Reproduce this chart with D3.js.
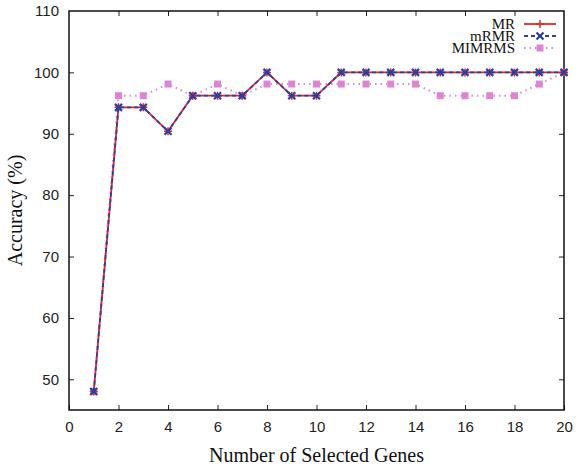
<!DOCTYPE html>
<html>
<head>
<meta charset="utf-8">
<script src="https://cdn.jsdelivr.net/npm/d3@7"></script>
<style>
  body { margin: 0; background: #fff; }
  .tick text { font-family: "Liberation Sans", Arial, sans-serif; font-size: 15px; fill: #222; }
</style>
</head>
<body>
<div id="chart"></div>
<script>
// data
var genes = d3.range(1, 21);
var mr     = [48, 94.3, 94.3, 90.4, 96.2, 96.2, 96.2, 100, 96.2, 96.2, 100, 100, 100, 100, 100, 100, 100, 100, 100, 100];
var mrmr   = [48, 94.3, 94.3, 90.4, 96.2, 96.2, 96.2, 100, 96.2, 96.2, 100, 100, 100, 100, 100, 100, 100, 100, 100, 100];
var mimrms = [48, 96.2, 96.2, 98.1, 96.2, 98.1, 96.2, 98.1, 98.1, 98.1, 98.1, 98.1, 98.1, 98.1, 96.2, 96.2, 96.2, 96.2, 98.1, 100];
var xTicks = d3.range(0, 21, 2);
var yTicks = [50, 60, 70, 80, 90, 100, 110];

var W = 579, H = 468;
var margin = { top: 11, right: 15, bottom: 58, left: 69 },
    width = W - margin.left - margin.right,
    height = H - margin.top - margin.bottom;

var svg = d3.select("#chart").append("svg")
    .attr("width", W)
    .attr("height", H)
    .append("g")
    .attr("transform", "translate(" + margin.left + "," + margin.top + ")");

var x = d3.scaleLinear().domain([0, 20]).range([0, width]);
var y = d3.scaleLinear().domain([45, 110]).range([height, 0]);

// axes, ticks pointing inward (gnuplot style), mirrored on top/right
var bottom = svg.append("g")
    .attr("transform", "translate(0," + height + ")")
    .call(d3.axisBottom(x).tickValues(xTicks).tickSizeInner(-5).tickSizeOuter(0).tickPadding(11));
var left = svg.append("g")
    .call(d3.axisLeft(y).tickValues(yTicks.filter(function(d) { return d < 110; })).tickSizeInner(-5).tickSizeOuter(0).tickPadding(10));
svg.append("g")
    .call(d3.axisTop(x).tickValues(xTicks.slice(1, -1)).tickSizeInner(-5).tickSizeOuter(0).tickFormat(""));
svg.append("g")
    .attr("transform", "translate(" + width + ",0)")
    .call(d3.axisRight(y).tickValues(yTicks.slice(0, -1)).tickSizeInner(-5).tickSizeOuter(0).tickFormat(""));
svg.selectAll(".domain").remove();
svg.selectAll(".tick line").attr("stroke", "#222").attr("stroke-width", 1);

// 110 label sits on the top border
left.append("g").attr("class", "tick")
    .attr("transform", "translate(0," + y(110) + ")")
    .append("text").attr("x", -10).attr("dy", "0.32em")
    .attr("text-anchor", "end").text("110");

// frame
svg.append("rect")
    .attr("width", width).attr("height", height)
    .attr("fill", "none").attr("stroke", "#111").attr("stroke-width", 1.5);

var series = [
  { name: "MR", values: mr, color: "#e3262b", dash: null, marker: "plus" },
  { name: "mRMR", values: mrmr, color: "#2d3e9e", dash: "4,3", marker: "cross" },
  { name: "MIMRMS", values: mimrms, color: "#dd85d0", dash: "1.5,4", marker: "square" }
];

var line = d3.line()
    .x(function(d, i) { return x(genes[i]); })
    .y(function(d) { return y(d); });

function drawMarker(g, type, color) {
  if (type === "plus") {
    g.append("path").attr("d", "M-4,0H4M0,-4V4").attr("stroke", color).attr("stroke-width", 1.5);
  } else if (type === "cross") {
    g.append("path").attr("d", "M-3.5,-3.5L3.5,3.5M-3.5,3.5L3.5,-3.5").attr("stroke", color).attr("stroke-width", 2.2);
  } else {
    g.append("rect").attr("x", -3.5).attr("y", -3.5).attr("width", 7).attr("height", 7).attr("fill", color);
  }
}

// draw MIMRMS first, then MR, then mRMR on top
[series[2], series[0], series[1]].forEach(function(s) {
  svg.append("path")
      .datum(s.values)
      .attr("d", line)
      .attr("fill", "none")
      .attr("stroke", s.color)
      .attr("stroke-width", s.name === "MIMRMS" ? 2 : 1.8)
      .attr("stroke-dasharray", s.dash);
  s.values.forEach(function(v, i) {
    var g = svg.append("g").attr("transform", "translate(" + x(genes[i]) + "," + y(v) + ")");
    drawMarker(g, s.marker, s.color);
  });
});

// legend
var legend = svg.append("g").attr("transform", "translate(" + (x(20) - 45) + ",0)");
series.forEach(function(s, i) {
  var ly = 13 + i * 12;
  legend.append("text")
      .attr("x", -4).attr("y", ly).attr("dy", "0.35em")
      .attr("text-anchor", "end")
      .attr("font-family", "'Liberation Serif', 'Times New Roman', serif")
      .attr("font-size", 15).attr("fill", "#111")
      .text(s.name);
  legend.append("line")
      .attr("x1", 5).attr("x2", 37).attr("y1", ly).attr("y2", ly)
      .attr("stroke", s.color).attr("stroke-width", s.name === "MIMRMS" ? 2 : 1.8)
      .attr("stroke-dasharray", s.dash);
  var g = legend.append("g").attr("transform", "translate(21," + ly + ")");
  drawMarker(g, s.marker, s.color);
});

// axis titles
svg.append("text")
    .attr("x", width / 2).attr("y", height + 52)
    .attr("text-anchor", "middle")
    .attr("font-family", "'Liberation Serif', 'Times New Roman', serif")
    .attr("font-size", 20).attr("fill", "#111")
    .text("Number of Selected Genes");

svg.append("text")
    .attr("transform", "translate(" + (-47) + "," + (height / 2) + ") rotate(-90)")
    .attr("text-anchor", "middle")
    .attr("font-family", "'Liberation Serif', 'Times New Roman', serif")
    .attr("font-size", 20).attr("fill", "#111")
    .text("Accuracy (%)");
</script>
</body>
</html>
